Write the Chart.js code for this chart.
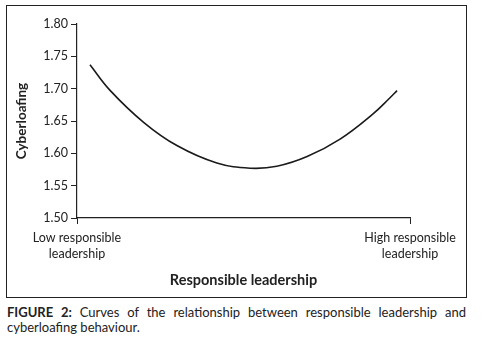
<!DOCTYPE html>
<html>
<head>
<meta charset="utf-8">
<script src="https://cdn.jsdelivr.net/npm/chart.js@4.4.0/dist/chart.umd.min.js"></script>
<style>
  html, body { margin: 0; padding: 0; background: #fff; }
  body { width: 488px; height: 346px; position: relative; overflow: hidden; font-family: Lato, "Open Sans", sans-serif; }
  #box { position: absolute; left: 6px; top: 5px; width: 459px; height: 291px; border: 1.3px solid #222; }
  #wrap { position: absolute; left: 0; top: 0; width: 488px; height: 300px; }
  #cap { position: absolute; left: 7px; top: 305px; width: 459px; font-size: 13px; line-height: 15px; color: #222; text-align: justify; text-align-last: left; }
  #cap b { color: #222; }
</style>
</head>
<body>
<div id="box"></div>
<div id="wrap"><canvas id="c" width="488" height="300"></canvas></div>
<div id="cap"><b>FIGURE 2:</b> Curves of the relationship between responsible leadership and cyberloafing behaviour.</div>
<script>
const xPositions = [0.039, 0.10, 0.20, 0.30, 0.42, 0.52, 0.60, 0.691, 0.79, 0.889, 0.94, 0.961];
const cyberloafing = [1.737, 1.697, 1.648, 1.612, 1.585, 1.577, 1.580, 1.595, 1.622, 1.661, 1.686, 1.697];
const xTickLabels = [["Low responsible", "leadership"], ["High responsible", "leadership"]];
const yTicks = [1.50, 1.55, 1.60, 1.65, 1.70, 1.75, 1.80];

const points = xPositions.map((x, i) => ({ x: x, y: cyberloafing[i] }));
const font = "Lato, 'Open Sans', sans-serif";

new Chart(document.getElementById('c'), {
  type: 'line',
  data: {
    datasets: [{
      data: points,
      borderColor: '#1a1a1a',
      borderWidth: 1.6,
      pointRadius: 0,
      fill: false,
      tension: 0.4
    }]
  },
  options: {
    responsive: false,
    animation: false,
    events: [],
    layout: { padding: { top: 24, right: 78, bottom: 0, left: 0 } },
    plugins: { legend: { display: false }, tooltip: { enabled: false } },
    scales: {
      x: {
        type: 'linear',
        min: 0, max: 1,
        afterBuildTicks: (s) => { s.ticks = [{ value: 0 }, { value: 1 }]; },
        afterFit: (s) => { s.height = 82; },
        ticks: {
          color: '#222',
          font: { family: font, size: 12.5, lineHeight: 1.3 },
          padding: 6,
          maxRotation: 0,
          autoSkip: false,
          callback: (v) => v === 0 ? xTickLabels[0] : (v === 1 ? xTickLabels[1] : '')
        },
        grid: { display: true, drawOnChartArea: false, drawTicks: true, tickLength: 6, color: '#222' },
        border: { color: '#222', width: 1.2 },
        title: {
          display: true,
          text: 'Responsible leadership',
          color: '#222',
          font: { family: font, size: 14.5, weight: 'bold' },
          padding: { top: 4, bottom: 11 }
        }
      },
      y: {
        min: 1.5, max: 1.8,
        afterBuildTicks: (s) => { s.ticks = yTicks.map(v => ({ value: v })); },
        afterFit: (s) => { s.width = 77; },
        ticks: {
          color: '#222',
          font: { family: font, size: 12.5 },
          padding: 3,
          callback: (v) => Number(v).toFixed(2)
        },
        grid: { display: true, drawOnChartArea: false, drawTicks: true, tickLength: 6, color: '#222' },
        border: { color: '#222', width: 1.2 },
        title: {
          display: true,
          text: 'Cyberloafing',
          color: '#222',
          font: { family: font, size: 13.5, weight: 'bold' },
          padding: { top: 14, bottom: 0 }
        }
      }
    }
  }
});
</script>
</body>
</html>
